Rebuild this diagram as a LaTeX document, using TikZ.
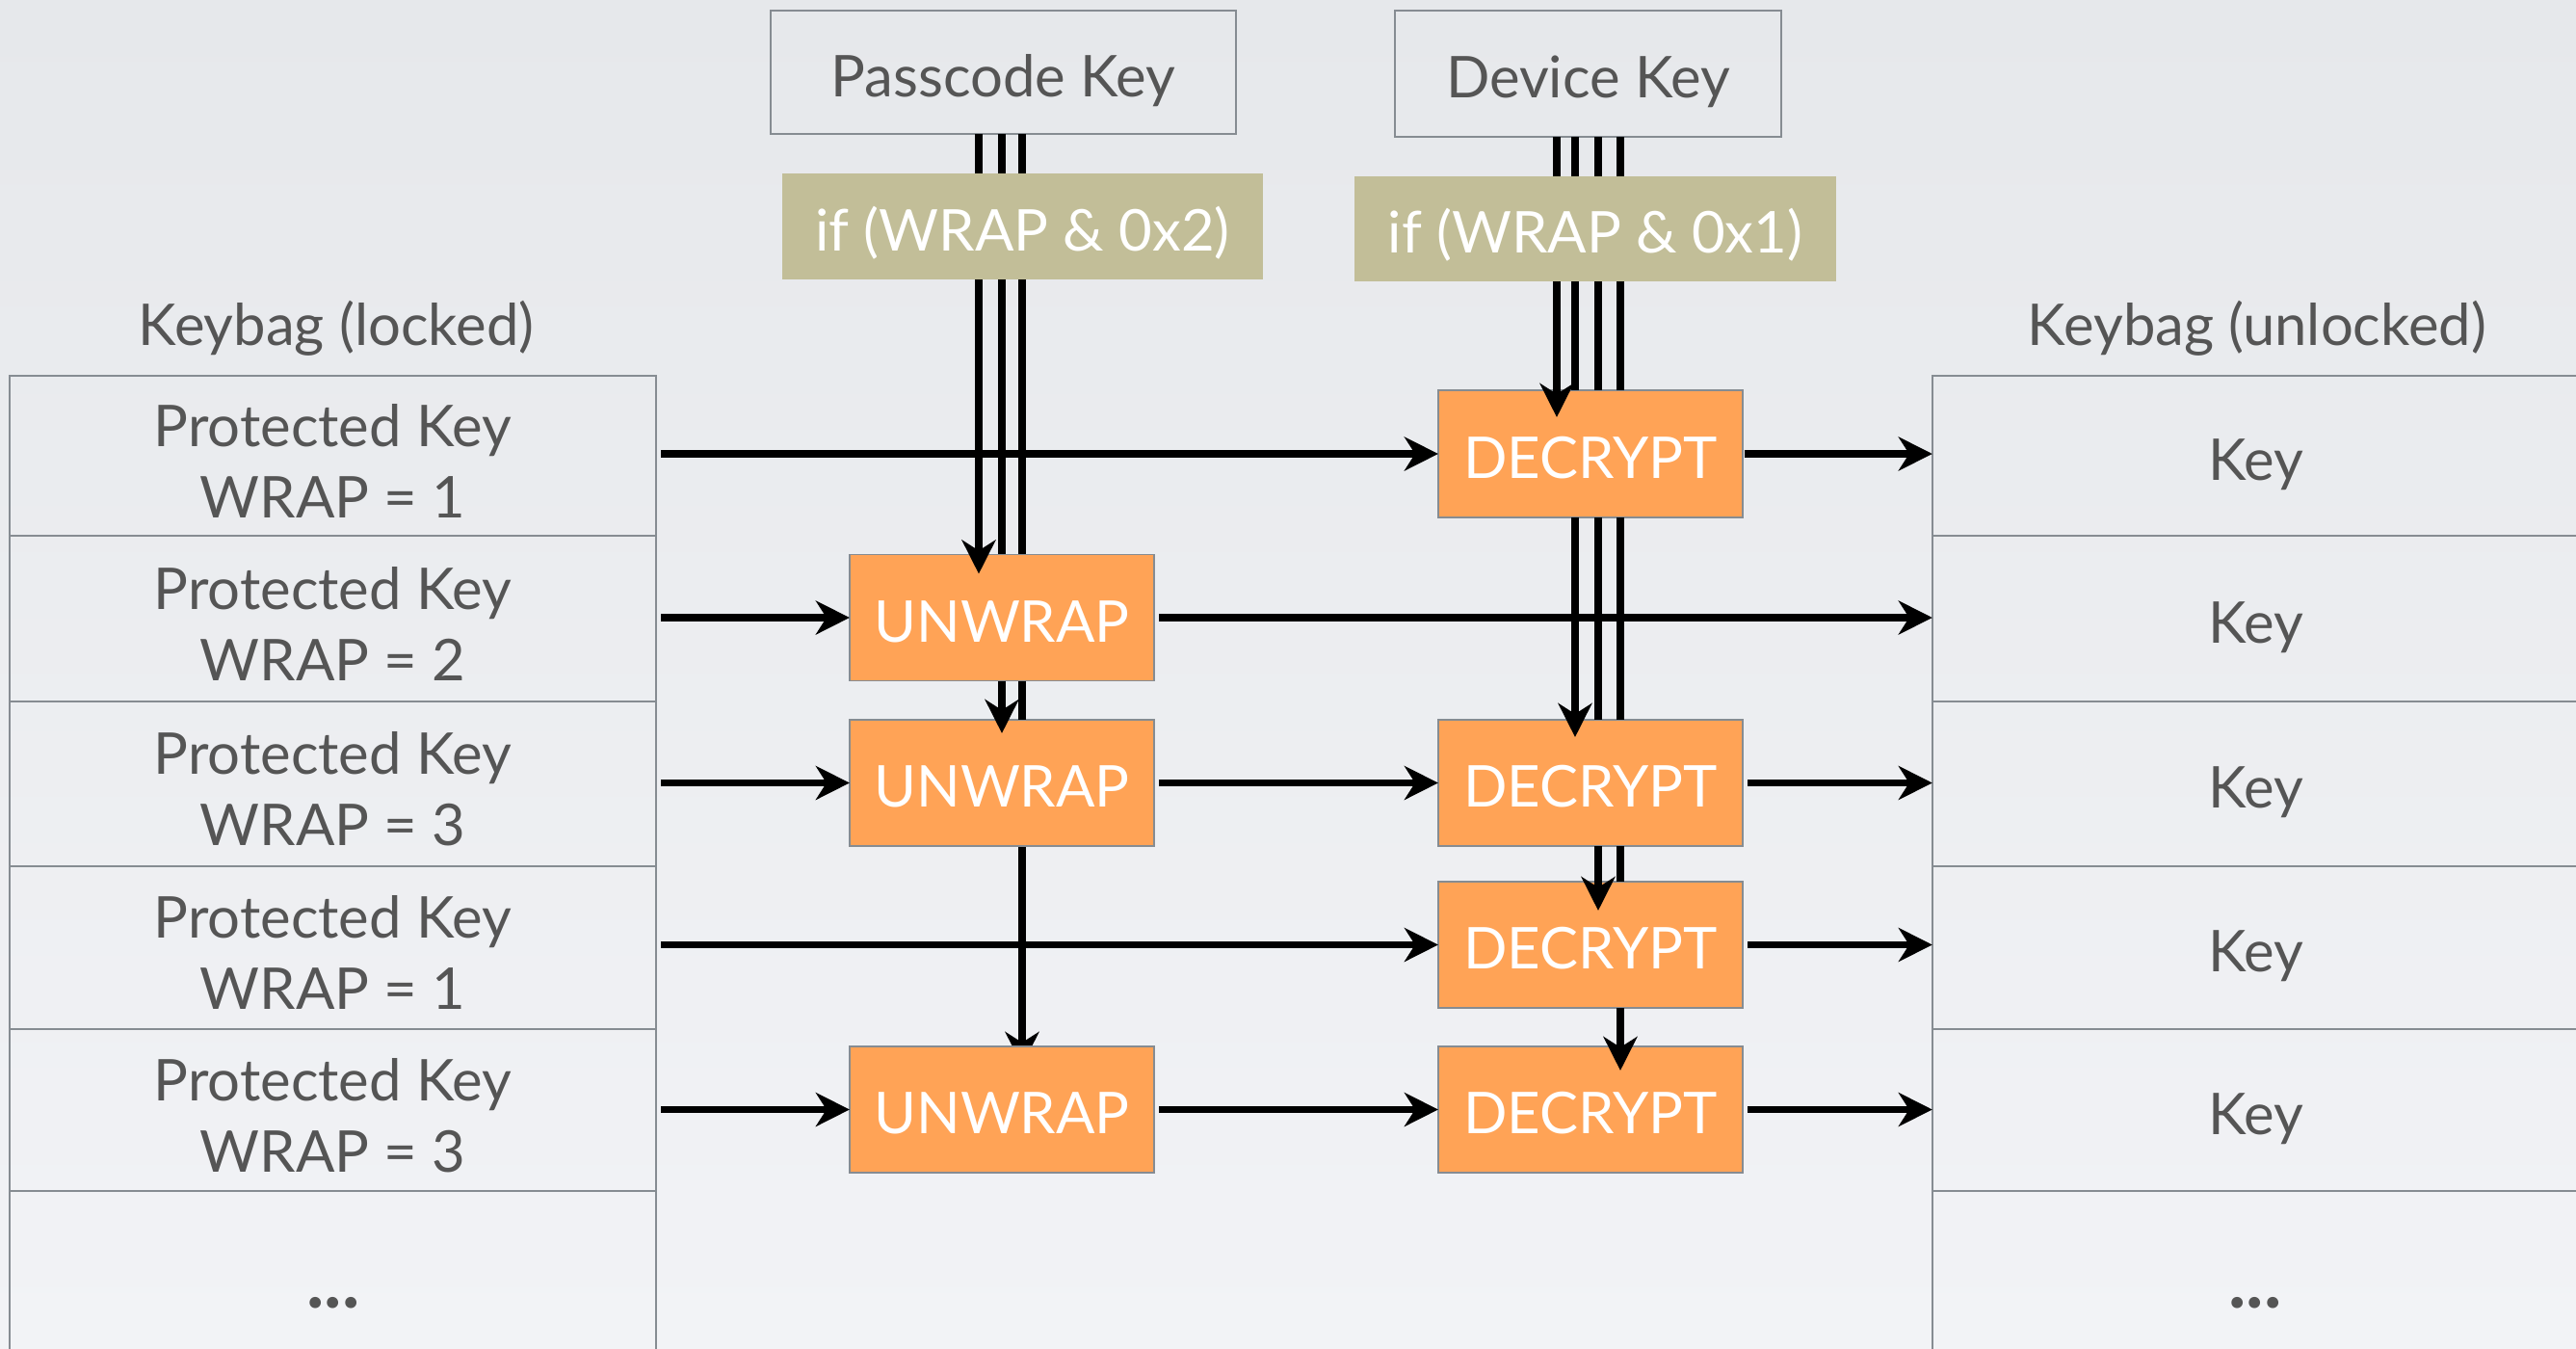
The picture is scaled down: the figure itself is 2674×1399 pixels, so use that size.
\documentclass[tikz,border=0pt]{standalone}
\usepackage{fontspec}
\setmainfont{Lato}
\usetikzlibrary{arrows.meta}
\definecolor{bgtop}{HTML}{E6E8EB}
\definecolor{bgbot}{HTML}{F2F3F6}
\definecolor{orangebox}{HTML}{FFA356}
\definecolor{olivebox}{HTML}{C2BE98}
\definecolor{txtgray}{HTML}{555555}
\definecolor{edgegray}{HTML}{868C92}
\pgfdeclarelayer{back}
\pgfdeclarelayer{under}
\pgfdeclarelayer{fore}
\pgfsetlayers{back,under,main,fore}
\begin{document}
\begin{tikzpicture}[x=0.01cm,y=-0.01cm,
  every node/.style={font=\fontsize{17}{21}\selectfont, inner sep=0pt, outer sep=0pt},
  capc/.style={text height=0.50cm, text depth=0pt},
  cellbox/.style={draw=edgegray, line width=0.6pt, minimum width=6.71cm},
  rcellbox/.style={draw=edgegray, line width=0.6pt, text=txtgray, capc, minimum width=6.72cm},
  keybox/.style={draw=edgegray, line width=0.6pt, text=txtgray, capc},
  condbox/.style={fill=olivebox, text=white, capc},
  opbox/.style={fill=orangebox, draw=edgegray, line width=0.4pt, text=white, capc, minimum width=3.16cm, minimum height=1.31cm},
  lbl/.style={text=txtgray},
  basetxt/.style={text=txtgray, anchor=base},
  dotstxt/.style={text=txtgray, anchor=base, font=\fontsize{22}{26}\selectfont\bfseries},
  wire/.style={line width=2.25pt},
  arr/.style={line width=2.25pt, -{Stealth[length=0.35cm,width=0.35cm,inset=0.11cm]}}
]
\begin{pgfonlayer}{back}
\shade[top color=bgtop, bottom color=bgbot] (0,0) rectangle (2674,1399);
\end{pgfonlayer}
\path[use as bounding box] (0,0) rectangle (2674,1399);

% labels
\node[lbl, capc] (klock) at (349,333) {Keybag (locked)};
\node[lbl, capc] (kunl) at (2343,333) {Keybag (unlocked)};

% left table
\node[cellbox, minimum height=1.66cm] (L1) at (345.5,473) {};
\node[cellbox, minimum height=1.72cm] (L2) at (345.5,642) {};
\node[cellbox, minimum height=1.71cm] (L3) at (345.5,813.5) {};
\node[cellbox, minimum height=1.69cm] (L4) at (345.5,983.5) {};
\node[cellbox, minimum height=1.68cm] (L5) at (345.5,1152) {};
\node[cellbox, minimum height=1.67cm] (L6) at (345.5,1319.5) {};
\node[basetxt] (L1a) at ([yshift=0.10cm]L1.center) {Protected Key};
\node[basetxt] (L1b) at ([yshift=-0.64cm]L1.center) {WRAP = 1};
\node[basetxt] (L2a) at ([yshift=0.10cm]L2.center) {Protected Key};
\node[basetxt] (L2b) at ([yshift=-0.64cm]L2.center) {WRAP = 2};
\node[basetxt] (L3a) at ([yshift=0.10cm]L3.center) {Protected Key};
\node[basetxt] (L3b) at ([yshift=-0.64cm]L3.center) {WRAP = 3};
\node[basetxt] (L4a) at ([yshift=0.10cm]L4.center) {Protected Key};
\node[basetxt] (L4b) at ([yshift=-0.64cm]L4.center) {WRAP = 1};
\node[basetxt] (L5a) at ([yshift=0.10cm]L5.center) {Protected Key};
\node[basetxt] (L5b) at ([yshift=-0.64cm]L5.center) {WRAP = 3};
\node[dotstxt] (Ldots) at (346,1357) {...};

% right table
\node[rcellbox, minimum height=1.66cm] (R1) at (2342,473) {Key};
\node[rcellbox, minimum height=1.72cm] (R2) at (2342,642) {Key};
\node[rcellbox, minimum height=1.71cm] (R3) at (2342,813.5) {Key};
\node[rcellbox, minimum height=1.69cm] (R4) at (2342,983.5) {Key};
\node[rcellbox, minimum height=1.68cm] (R5) at (2342,1152) {Key};
\node[rcellbox, minimum height=1.67cm] (R6) at (2342,1319.5) {};
\node[dotstxt] (Rdots) at (2341,1357) {...};

% key boxes
\node[keybox, minimum width=4.83cm, minimum height=1.28cm] (pk) at (1041.5,75) {Passcode Key};
\node[keybox, minimum width=4.01cm, minimum height=1.31cm] (dk) at (1648.5,76.5) {Device Key};

% operation boxes
\node[opbox] (U1) at (1040,641) {UNWRAP};
\node[opbox] (U2) at (1040,812.5) {UNWRAP};
\node[opbox] (U3) at (1040,1151.5) {UNWRAP};
\node[opbox, minimum height=1.32cm] (D1) at (1651,471) {DECRYPT};
\node[opbox] (D2) at (1651,812.5) {DECRYPT};
\node[opbox] (D3) at (1651,980.5) {DECRYPT};
\node[opbox] (D4) at (1651,1151.5) {DECRYPT};

% condition boxes (drawn over the wires)
\begin{pgfonlayer}{fore}
\node[condbox, minimum width=4.99cm, minimum height=1.10cm] (c2) at (1061.5,235) {if (WRAP \& 0x2)};
\node[condbox, minimum width=5.00cm, minimum height=1.09cm] (c1) at (1656,237.5) {if (WRAP \& 0x1)};
\end{pgfonlayer}

% wire x positions
\coordinate (p1) at (1016,0);
\coordinate (p2) at (1040,0);
\coordinate (p3) at (1061,0);
\coordinate (q1) at (1616,0);
\coordinate (q2) at (1635,0);
\coordinate (q3) at (1659,0);
\coordinate (q4) at (1682,0);

% passcode wires
\draw[arr, shorten >=-0.2cm] (pk.south -| p1) -- (U1.north -| p1);
\draw[wire] (pk.south -| p2) -- (U1.north -| p2);
\draw[wire] (pk.south -| p3) -- (U1.north -| p3);
\draw[arr, shorten >=-0.14cm] (U1.south -| p2) -- (U2.north -| p2);
\draw[wire] (U1.south -| p3) -- (U2.north -| p3);
\begin{pgfonlayer}{under}
\draw[arr, shorten >=-0.2cm] (U2.south -| p3) -- (U3.north -| p3);
\end{pgfonlayer}

% device wires
\draw[arr, shorten >=-0.28cm] (dk.south -| q1) -- (D1.north -| q1);
\draw[wire] (dk.south -| q2) -- (D1.north -| q2);
\draw[wire] (dk.south -| q3) -- (D1.north -| q3);
\draw[wire] (dk.south -| q4) -- (D1.north -| q4);
\draw[arr, shorten >=-0.18cm] (D1.south -| q2) -- (D2.north -| q2);
\draw[wire] (D1.south -| q3) -- (D2.north -| q3);
\draw[wire] (D1.south -| q4) -- (D2.north -| q4);
\draw[arr, shorten >=-0.3cm] (D2.south -| q3) -- (D3.north -| q3);
\draw[wire] (D2.south -| q4) -- (D3.north -| q4);
\draw[arr, shorten >=-0.25cm] (D3.south -| q4) -- (D4.north -| q4);

% row 1
\draw[arr, shorten <=0.05cm] (L1.east |- D1) -- (D1.west);
\draw[arr, shorten <=0.02cm] (D1.east) -- (D1.east -| R1.west);
% row 2
\draw[arr, shorten <=0.05cm] (L2.east |- U1) -- (U1.west);
\draw[arr, shorten <=0.05cm] (U1.east) -- (U1.east -| R2.west);
% row 3
\draw[arr, shorten <=0.05cm] (L3.east |- U2) -- (U2.west);
\draw[arr, shorten <=0.05cm] (U2.east) -- (D2.west);
\draw[arr, shorten <=0.05cm] (D2.east) -- (D2.east -| R3.west);
% row 4
\draw[arr, shorten <=0.05cm] (L4.east |- D3) -- (D3.west);
\draw[arr, shorten <=0.05cm] (D3.east) -- (D3.east -| R4.west);
% row 5
\draw[arr, shorten <=0.05cm] (L5.east |- U3) -- (U3.west);
\draw[arr, shorten <=0.05cm] (U3.east) -- (D4.west);
\draw[arr, shorten <=0.05cm] (D4.east) -- (D4.east -| R5.west);
\end{tikzpicture}
\end{document}
